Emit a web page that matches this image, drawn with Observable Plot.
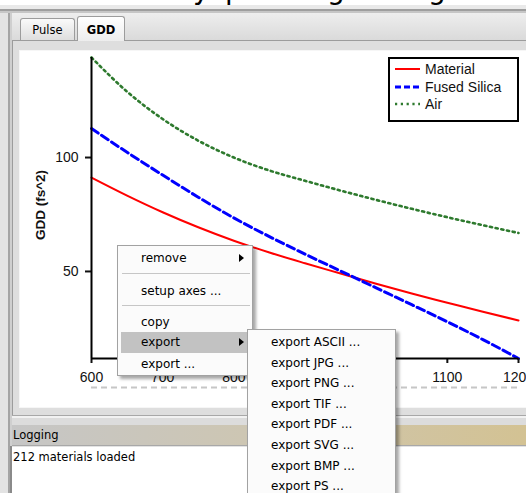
<!DOCTYPE html>
<html>
<head>
<meta charset="utf-8">
<script src="https://cdn.jsdelivr.net/npm/d3@7"></script>
<script src="https://cdn.jsdelivr.net/npm/@observablehq/plot@0.6"></script>
<style>
  html, body { margin:0; padding:0; }
  body { width:526px; height:493px; overflow:hidden; position:relative; background:#e3e3e3; font-family:"DejaVu Sans", sans-serif; }
  .abs { position:absolute; }
  .ui { font-family:"DejaVu Sans", sans-serif; font-size:11.5px; color:#000; white-space:nowrap; }
  .menu { position:absolute; background:#fbfbfb; border:1px solid #a2a2a2; box-shadow:3px 3px 3px rgba(0,0,0,0.35); }
  .mi { position:absolute; font-family:"DejaVu Sans", sans-serif; font-size:12px; line-height:14px; height:14px; color:#000; white-space:nowrap; }
  .sep { position:absolute; height:1px; background:#c6c6c6; }
  .arrow { position:absolute; width:0; height:0; border-top:4px solid transparent; border-bottom:4px solid transparent; border-left:5px solid #000; }
</style>
</head>
<body>
<script>
// ---- data ----
const wavelengths = [600, 650, 700, 750, 800, 850, 900, 950, 1000, 1050, 1100, 1150, 1200];
const material    = [91.2, 83.3, 76.0, 69.4, 63.5, 58.3, 53.6, 49.1, 44.6, 40.3, 36.3, 32.3, 28.5];
const fusedSilica = [112.7, 102.3, 92.3, 82.6, 73.5, 65.3, 57.6, 50.2, 42.8, 35.4, 27.9, 20.1, 11.8];
const air         = [143.9, 128.9, 116.9, 107.4, 100.0, 94.3, 89.8, 85.5, 81.4, 77.5, 73.8, 70.3, 66.9];
const seriesNames = ["Material", "Fused Silica", "Air"];
const xTicks = [600, 700, 800, 900, 1000, 1100, 1200];
const yTicks = [50, 100];
const yLabel = "GDD (fs^2)";
const tabs = ["Pulse", "GDD"];
const menuItems = ["remove", "setup axes ...", "copy", "export", "export ..."];
const exportItems = ["export ASCII ...", "export JPG ...", "export PNG ...", "export TIF ...", "export PDF ...", "export SVG ...", "export BMP ...", "export PS ..."];
const logLines = ["212 materials loaded"];
const titleGlyphs = ["y", "p", "g", "g"];

const series = [material, fusedSilica, air];
const styles = [
  {stroke:"#ff0000", strokeWidth:2, strokeDasharray:null},
  {stroke:"#0000ff", strokeWidth:3, strokeDasharray:"8,4"},
  {stroke:"#2e7a2e", strokeWidth:2.6, strokeDasharray:"2.2,3.6"}
];
const rows = [];
series.forEach((vals, k) => vals.forEach((v, i) => rows.push({w: wavelengths[i], v, s: seriesNames[k]})));
const yMin = d3.min(rows, d => d.v), yMax = d3.max(rows, d => d.v);

function el(tag, cls, css, text) {
  const e = document.createElement(tag);
  if (cls) e.className = cls;
  if (css) e.setAttribute("style", css);
  if (text != null) e.textContent = text;
  document.body.appendChild(e);
  return e;
}

// ---- window chrome ----
const titleStrip = el("div", "abs", "left:0;top:0;width:526px;height:5px;background:#fff;overflow:hidden;");
const ns = "http://www.w3.org/2000/svg";
const tsvg = document.createElementNS(ns, "svg");
tsvg.setAttribute("width", 526); tsvg.setAttribute("height", 5);
tsvg.style.display = "block";
[193, 225, 327, 428].forEach((x, i) => {
  const t = document.createElementNS(ns, "text");
  t.setAttribute("x", x); t.setAttribute("y", -1.5);
  t.setAttribute("font-family", "DejaVu Sans"); t.setAttribute("font-size", 28);
  t.textContent = titleGlyphs[i];
  tsvg.appendChild(t);
});
titleStrip.appendChild(tsvg);
el("div", "abs", "left:0;top:5px;width:526px;height:4px;background:#e9e9e9;");
el("div", "abs", "left:0;top:9px;width:526px;height:2px;background:#9e9e9e;");
el("div", "abs", "left:0;top:11px;width:526px;height:2px;background:#c6c6c6;");
el("div", "abs", "left:8px;top:13px;width:2px;height:480px;background:#a4a4a4;");
el("div", "abs", "left:10px;top:13px;width:2px;height:480px;background:#cfcfcf;");
el("div", "abs", "left:12px;top:13px;width:514px;height:27px;background:linear-gradient(#eeeeee,#dadada);");
// tabs
el("div", "abs ui", "left:20px;top:18px;width:55px;height:22px;box-sizing:border-box;border:1px solid #9c9c9c;border-bottom:none;border-radius:3px 3px 0 0;background:linear-gradient(#fafafa,#dedede);text-align:center;line-height:22px;", tabs[0]);
// panel
el("div", "abs", "left:12px;top:40px;width:514px;height:377px;box-sizing:border-box;border-top:1px solid #9c9c9c;border-left:1px solid #9c9c9c;background:#dedede;");
el("div", "abs ui", "left:77px;top:16px;width:48px;height:25px;box-sizing:border-box;border:1px solid #9c9c9c;border-bottom:none;border-radius:3px 3px 0 0;background:linear-gradient(#ffffff,#ededed);text-align:center;line-height:26px;font-weight:bold;", tabs[1]);
el("div", "abs", "left:19px;top:50px;width:507px;height:358px;background:#f6f6f6;");
const chartBox = el("div", "abs", "left:20px;top:51px;width:506px;height:356px;background:#fff;overflow:hidden;");
// bottom separator + logging
el("div", "abs", "left:12px;top:415px;width:514px;height:1px;background:#a8a8a8;");
el("div", "abs", "left:12px;top:416px;width:514px;height:2px;background:#f2f2f2;");
el("div", "abs", "left:12px;top:418px;width:514px;height:7px;background:#dcdcdc;");
el("div", "abs ui", "left:12px;top:425px;width:514px;height:21px;box-sizing:border-box;padding-left:1px;line-height:21px;background:linear-gradient(90deg,#c6c6c6 0%,#cdc6b3 45%,#d3c293 100%);border-bottom:1px solid #a8a8a8;", "Logging");
el("div", "abs", "left:10px;top:446px;width:2px;height:47px;background:#8a8a8a;");
const logBox = el("div", "abs ui", "left:12px;top:447px;width:514px;height:46px;background:#fff;padding-left:1px;line-height:20px;box-sizing:border-box;");
logBox.textContent = logLines[0];

// ---- chart ----
const marks = [
  Plot.ruleY([yMin], {dy: 29, stroke: "#c6c6c6", strokeWidth: 2, strokeDasharray: "6,4"})
];
seriesNames.forEach((name, k) => {
  marks.push(Plot.line(rows.filter(d => d.s === name), {
    x: "w", y: "v", curve: "monotone-x",
    stroke: styles[k].stroke, strokeWidth: styles[k].strokeWidth,
    strokeDasharray: styles[k].strokeDasharray
  }));
});
marks.push(
  Plot.axisX({ticks: xTicks, tickSize: 5, tickPadding: 9, strokeWidth: 2, tickFormat: d => String(d), label: null}),
  Plot.axisY({ticks: yTicks, tickSize: 6, tickPadding: 7, strokeWidth: 2, tickFormat: d => String(d), label: null}),
  Plot.ruleX([600], {stroke: "#000", strokeWidth: 2}),
  Plot.ruleY([yMin], {stroke: "#000", strokeWidth: 2})
);
const chart = Plot.plot({
  width: 506, height: 356,
  marginLeft: 71, marginRight: 8, marginTop: 6, marginBottom: 49,
  style: {fontFamily: "Liberation Sans", fontSize: "14px", background: "white", color: "#111", overflow: "visible"},
  x: {domain: [600, 1200]},
  y: {domain: [yMin, yMax]},
  marks
});
chart.style.display = "block";
chartBox.appendChild(chart);

// y label
el("div", "abs", "left:40px;top:205px;transform:translate(-50%,-50%) rotate(-90deg);font-family:'Liberation Sans';font-weight:bold;font-size:13.5px;color:#111;white-space:nowrap;", yLabel);

// legend
const leg = el("div", "abs", "left:388px;top:57px;width:131px;height:65px;box-sizing:border-box;border:2px solid #000;background:#fff;");
const lsvg = document.createElementNS(ns, "svg");
lsvg.setAttribute("width", 127); lsvg.setAttribute("height", 61);
lsvg.style.display = "block";
[10, 28, 45].forEach((cy, k) => {
  const l = document.createElementNS(ns, "line");
  l.setAttribute("x1", 5); l.setAttribute("x2", 30); l.setAttribute("y1", cy); l.setAttribute("y2", cy);
  l.setAttribute("stroke", styles[k].stroke); l.setAttribute("stroke-width", styles[k].strokeWidth);
  if (styles[k].strokeDasharray) l.setAttribute("stroke-dasharray", k === 1 ? "6,3" : "2.2,3.6");
  lsvg.appendChild(l);
  const t = document.createElementNS(ns, "text");
  t.setAttribute("x", 35); t.setAttribute("y", cy + 5);
  t.setAttribute("font-family", "Liberation Sans"); t.setAttribute("font-size", 14); t.setAttribute("fill", "#111");
  t.textContent = seriesNames[k];
  lsvg.appendChild(t);
});
leg.appendChild(lsvg);

// ---- context menu ----
const m1 = el("div", "menu", "left:117px;top:245px;width:136px;height:131px;box-sizing:border-box;");
function add(parent, cls, css, text) {
  const e = document.createElement("div");
  e.className = cls; e.setAttribute("style", css);
  if (text != null) e.textContent = text;
  parent.appendChild(e); return e;
}
add(m1, "", "position:absolute;left:3px;top:86px;width:128px;height:21px;background:#c2c2c2;");
const m1y = [13, 46, 77, 97, 119];
menuItems.forEach((t, i) => add(m1, "mi", `left:23px;top:${m1y[i] - 8}px;`, t));
add(m1, "sep", "left:4px;top:27px;width:128px;");
add(m1, "sep", "left:4px;top:59px;width:128px;");
add(m1, "arrow", "left:121px;top:8px;");
add(m1, "arrow", "left:121px;top:92px;");

const m2 = el("div", "menu", "left:247px;top:329px;width:149px;height:175px;box-sizing:border-box;");
exportItems.forEach((t, i) => add(m2, "mi", `left:23px;top:${Math.round(13 + i * 20.6) - 8}px;`, t));
</script>
</body>
</html>
